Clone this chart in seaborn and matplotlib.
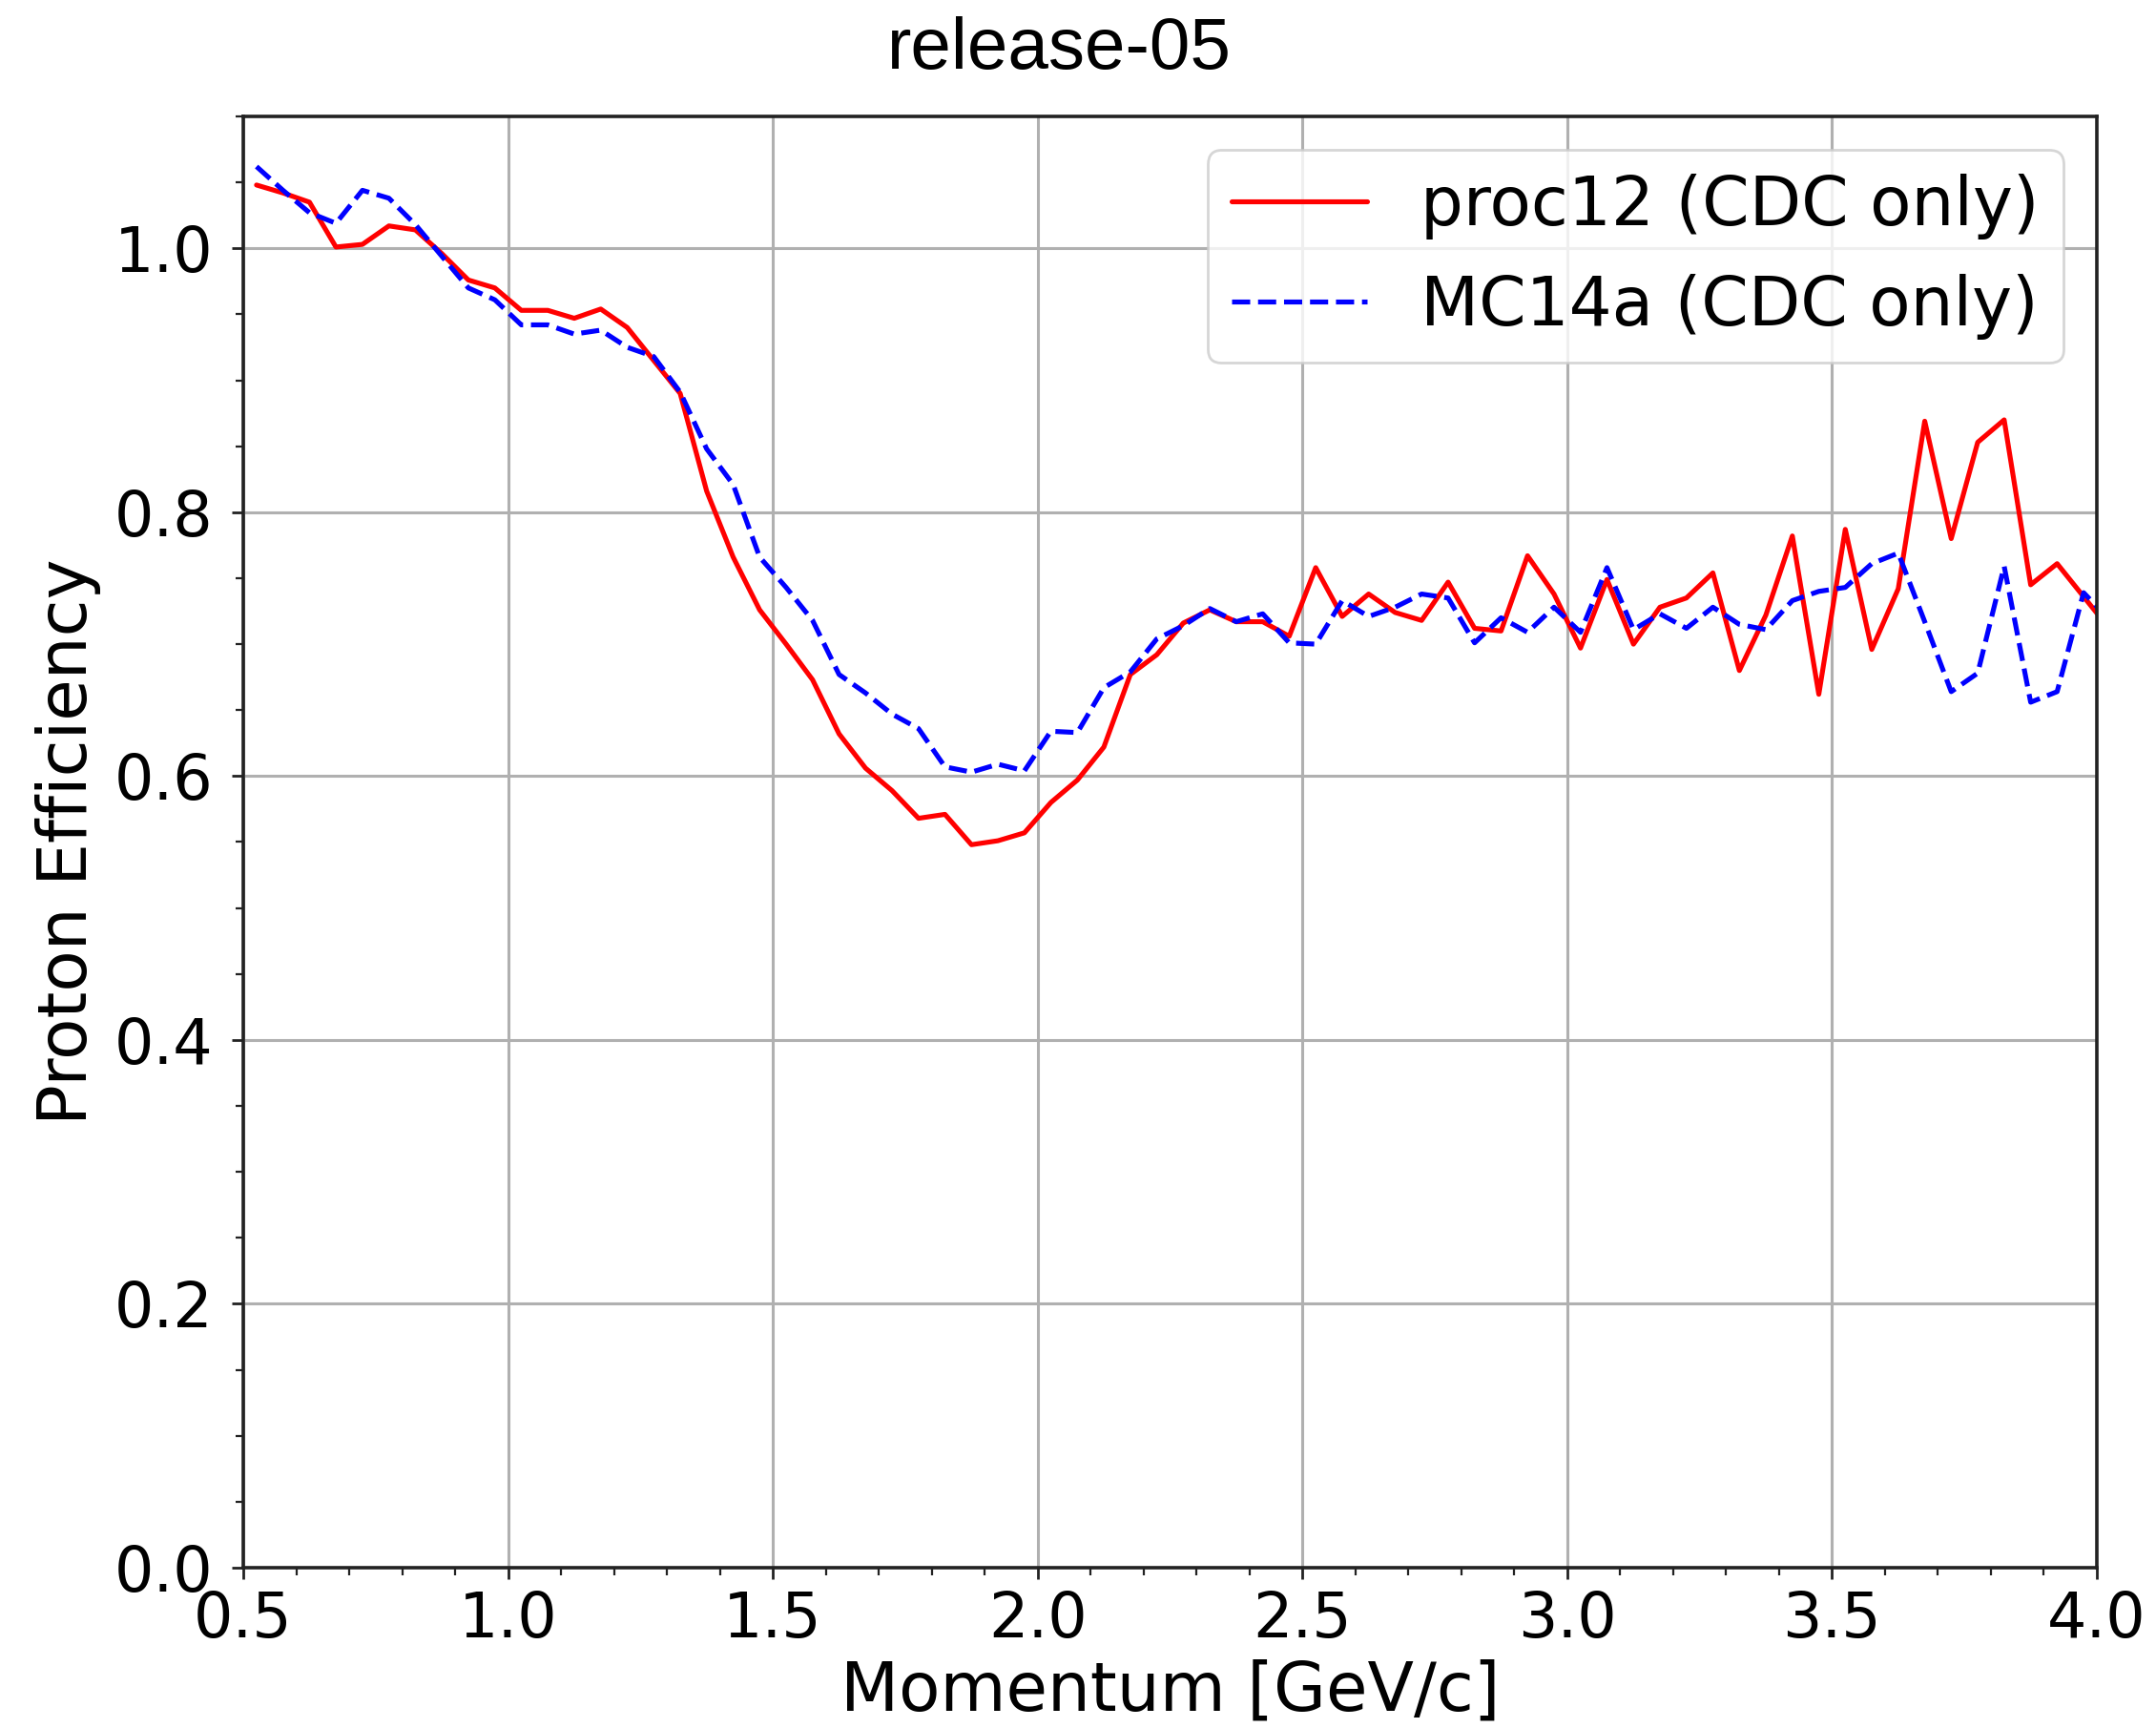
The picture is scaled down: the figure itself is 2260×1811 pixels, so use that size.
import numpy as np
import pandas as pd
import matplotlib
matplotlib.use("Agg")
import matplotlib.pyplot as plt
from matplotlib.ticker import MultipleLocator
import seaborn as sns

# ---------------- data ----------------
momentum = [
    0.525, 0.575, 0.625, 0.675, 0.725, 0.775, 0.825, 0.875, 0.925, 0.975,
    1.025, 1.075, 1.125, 1.175, 1.225, 1.275, 1.325, 1.375, 1.425, 1.475,
    1.525, 1.575, 1.625, 1.675, 1.725, 1.775, 1.825, 1.875, 1.925, 1.975,
    2.025, 2.075, 2.125, 2.175, 2.225, 2.275, 2.325, 2.375, 2.425, 2.475,
    2.525, 2.575, 2.625, 2.675, 2.725, 2.775, 2.825, 2.875, 2.925, 2.975,
    3.025, 3.075, 3.125, 3.175, 3.225, 3.275, 3.325, 3.375, 3.425, 3.475,
    3.525, 3.575, 3.625, 3.675, 3.725, 3.775, 3.825, 3.875, 3.925, 3.975,
    4.025,
]

proc12_eff = [
    1.048, 1.042, 1.035, 1.001, 1.003, 1.017, 1.014, 0.996, 0.976, 0.970,
    0.953, 0.953, 0.947, 0.954, 0.940, 0.915, 0.890, 0.816, 0.766, 0.726,
    0.700, 0.673, 0.632, 0.606, 0.589, 0.568, 0.571, 0.548, 0.551, 0.557,
    0.580, 0.597, 0.622, 0.677, 0.692, 0.716, 0.726, 0.717, 0.717, 0.706,
    0.758, 0.721, 0.738, 0.724, 0.718, 0.747, 0.712, 0.710, 0.767, 0.738,
    0.697, 0.749, 0.700, 0.728, 0.735, 0.754, 0.680, 0.722, 0.782, 0.662,
    0.787, 0.696, 0.742, 0.869, 0.780, 0.853, 0.870, 0.745, 0.761, 0.736,
    0.711,
]

mc14a_eff = [
    1.062, 1.044, 1.027, 1.019, 1.044, 1.038, 1.018, 0.994, 0.970, 0.961,
    0.942, 0.942, 0.935, 0.938, 0.925, 0.918, 0.891, 0.848, 0.821, 0.766,
    0.743, 0.718, 0.677, 0.663, 0.647, 0.636, 0.607, 0.603, 0.609, 0.604,
    0.634, 0.633, 0.667, 0.679, 0.704, 0.714, 0.727, 0.717, 0.723, 0.701,
    0.700, 0.733, 0.721, 0.728, 0.738, 0.735, 0.701, 0.720, 0.709, 0.728,
    0.709, 0.758, 0.711, 0.723, 0.712, 0.728, 0.715, 0.711, 0.733, 0.740,
    0.743, 0.761, 0.769, 0.717, 0.664, 0.678, 0.759, 0.656, 0.664, 0.739,
    0.718,
]

series_labels = ["proc12 (CDC only)", "MC14a (CDC only)"]
x_ticks = [0.5, 1.0, 1.5, 2.0, 2.5, 3.0, 3.5, 4.0]
y_ticks = [0.0, 0.2, 0.4, 0.6, 0.8, 1.0]
title_text = "release-05"
x_label = "Momentum [GeV/c]"
y_label = "Proton Efficiency"

assert len(momentum) == len(proc12_eff) == len(mc14a_eff)

# ---------------- style ----------------
sns.set_style("white")
plt.rcParams["font.family"] = ["DejaVu Sans"]
plt.rcParams["text.color"] = "black"
plt.rcParams["axes.labelcolor"] = "black"

FS = 47

fig = plt.figure(figsize=(22.6, 18.11), dpi=100)
ax = fig.add_axes([255 / 2260, 1 - 1643 / 1811, (2198 - 255) / 2260, (1643 - 122) / 1811])

df_red = pd.DataFrame({"x": momentum, "y": proc12_eff})
df_blue = pd.DataFrame({"x": momentum, "y": mc14a_eff})

sns.lineplot(data=df_red, x="x", y="y", ax=ax, color="#ff0000", linewidth=3.7,
             label=series_labels[0], sort=False, estimator=None)
sns.lineplot(data=df_blue, x="x", y="y", ax=ax, color="#0000ff", linewidth=3.7,
             linestyle="--", label=series_labels[1], sort=False, estimator=None)

ax.set_xlim(0.5, 4.0)
ax.set_ylim(0.0, 1.1)
ax.set_xticks(x_ticks)
ax.set_yticks(y_ticks)
ax.set_xticklabels([f"{t:.1f}" for t in x_ticks])
ax.set_yticklabels([f"{t:.1f}" for t in y_ticks])
ax.xaxis.set_minor_locator(MultipleLocator(0.1))
ax.yaxis.set_minor_locator(MultipleLocator(0.05))

ax.grid(True, which="major", color="#b0b0b0", linewidth=2.2)
ax.set_axisbelow(True)

for sp in ax.spines.values():
    sp.set_visible(True)
    sp.set_color("#222222")
    sp.set_linewidth(2.6)

ax.tick_params(axis="both", which="major", direction="out", length=8.5, width=2.0,
               labelsize=FS, colors="#222222", labelcolor="black",
               bottom=True, left=True, top=False, right=False)
ax.tick_params(axis="both", which="minor", direction="out", length=5.5, width=1.6,
               colors="#222222", bottom=True, left=True, top=False, right=False)
ax.tick_params(axis="x", which="major", pad=8)
ax.tick_params(axis="y", which="major", pad=14)

ax.set_xlabel(x_label, fontsize=51, labelpad=6, color="black")
ax.set_ylabel(y_label, fontsize=51, labelpad=10, color="black")

leg = ax.legend(loc="upper right", fontsize=51, frameon=True, framealpha=0.8,
                edgecolor="#cccccc", fancybox=True, handlelength=2.0,
                handletextpad=0.8, borderaxespad=0.5, labelspacing=0.5,
                borderpad=0.35)
leg.get_frame().set_linewidth(2.0)
for t in leg.get_texts():
    t.set_color("black")

fig.text(1110 / 2260, 1 - 72 / 1811, title_text, fontsize=55, color="black",
         family=["Liberation Sans", "DejaVu Sans"], ha="center", va="baseline")

fig.savefig("out.png", dpi=100, facecolor="white")
